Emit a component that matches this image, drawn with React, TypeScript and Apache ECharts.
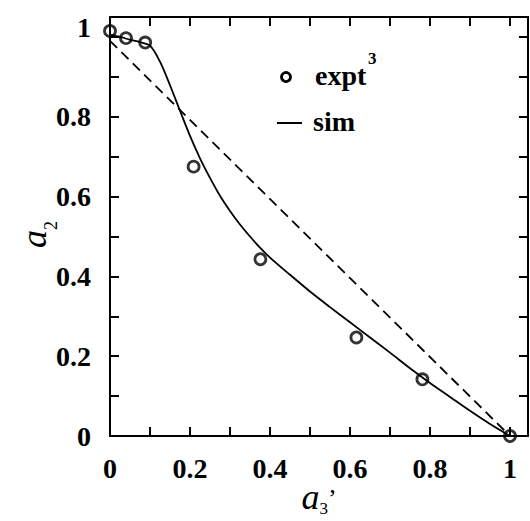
import React, { useEffect, useRef } from "react";
import * as echarts from "echarts";

// experimental points (expt^3)
const exptX = [0, 0.04, 0.088, 0.209, 0.376, 0.616, 0.781, 1.0];
const exptY = [1.015, 0.997, 0.986, 0.675, 0.443, 0.247, 0.142, 0.0];

// simulation curve (sim)
const simX = [0, 0.025, 0.05, 0.075, 0.1, 0.125, 0.15, 0.175, 0.2, 0.225, 0.25, 0.275, 0.3, 0.325, 0.35, 0.375, 0.4, 0.45, 0.5, 0.55, 0.6, 0.65, 0.7, 0.75, 0.8, 0.85, 0.9, 0.95, 1.0];
const simY = [1.005, 1.0, 0.993, 0.987, 0.978, 0.938, 0.879, 0.815, 0.752, 0.696, 0.647, 0.602, 0.564, 0.53, 0.5, 0.472, 0.447, 0.404, 0.362, 0.323, 0.285, 0.247, 0.209, 0.17, 0.133, 0.098, 0.063, 0.03, 0.0];

// dashed reference line
const diagX = [0, 1];
const diagY = [0.99, 0];

// axis labels shown at even tenths
const tickLabels = ["0", "0.2", "0.4", "0.6", "0.8", "1"];

const pairs = (xs: number[], ys: number[]) => xs.map((x, i) => [x, ys[i]]);

const FONT = "'Liberation Serif', 'Times New Roman', serif";

const labelFmt = (v: number) => {
  const k = Math.round(v * 10);
  if (k % 2 !== 0 || k > 10) return "";
  return tickLabels[k / 2];
};

export default function App() {
  const ref = useRef<HTMLDivElement>(null);
  useEffect(() => {
    document.body.style.margin = "0";
    const chart = echarts.init(ref.current!, null, { renderer: "svg" });
    const axisCommon = {
      type: "value" as const,
      min: 0,
      interval: 0.1,
      axisLine: { show: true, onZero: false, lineStyle: { color: "#000", width: 2 } },
      axisTick: { show: true, inside: true, length: 9, lineStyle: { color: "#000", width: 2 } },
      splitLine: { show: false },
    };
    chart.setOption({
      animation: false,
      backgroundColor: "#fff",
      grid: { left: 110, top: 17, right: 2, bottom: 85, containLabel: false, outerBoundsMode: "none" },
      xAxis: [
        {
          ...axisCommon,
          max: 1.045,
          position: "bottom",
          axisLabel: {
            formatter: labelFmt,
            showMaxLabel: false,
            margin: 18,
            color: "#000",
            fontFamily: FONT,
            fontWeight: "bold",
            fontSize: 28,
          },
          name: "{a|a}{s|3}{p|\u2019}",
          nameLocation: "middle",
          nameGap: 43,
          nameMoveOverlap: false,
          nameTextStyle: {
            rich: {
              a: { fontFamily: FONT, fontStyle: "italic", fontSize: 36, lineHeight: 26, color: "#000", verticalAlign: "top" },
              s: { fontFamily: FONT, fontSize: 17, lineHeight: 10, padding: [21, 0, 0, 0], color: "#000", verticalAlign: "top" },
              p: { fontFamily: FONT, fontSize: 26, lineHeight: 14, padding: [6, 0, 0, 0], color: "#000", verticalAlign: "top" },
            },
          },
        },
        {
          ...axisCommon,
          max: 1.045,
          position: "top",
          axisLabel: { show: false },
        },
      ],
      yAxis: [
        {
          ...axisCommon,
          max: 1.05,
          position: "left",
          axisLabel: {
            formatter: (v: number) => {
              const s = labelFmt(v);
              if (!s) return "";
              return s === "1" ? "{t|1}" : s;
            },
            showMaxLabel: false,
            margin: 19,
            color: "#000",
            fontFamily: FONT,
            fontWeight: "bold",
            fontSize: 28,
            rich: {
              t: { fontFamily: FONT, fontWeight: "bold", fontSize: 28, color: "#000", padding: [0, 0, 18, 0] },
            },
          },
          name: "{a|a}{s|2}",
          nameLocation: "middle",
          nameGap: 68,
          nameMoveOverlap: false,
          nameTextStyle: {
            padding: [0, 16, 0, 0],
            rich: {
              a: { fontFamily: FONT, fontStyle: "italic", fontSize: 36, lineHeight: 26, color: "#000", verticalAlign: "top" },
              s: { fontFamily: FONT, fontSize: 18, lineHeight: 10, padding: [26, 0, 0, 0], color: "#000", verticalAlign: "top" },
            },
          },
        },
        {
          ...axisCommon,
          max: 1.05,
          position: "right",
          axisLabel: { show: false },
        },
      ],
      series: [
        {
          name: "diag",
          type: "line",
          data: pairs(diagX, diagY),
          showSymbol: false,
          lineStyle: { color: "#000", width: 1.8, type: [10, 6] },
          z: 2,
        },
        {
          name: "sim",
          type: "line",
          data: pairs(simX, simY),
          showSymbol: false,
          smooth: 0.3,
          lineStyle: { color: "#000", width: 1.8 },
          z: 3,
        },
        {
          name: "expt3",
          type: "scatter",
          data: pairs(exptX, exptY),
          symbol: "circle",
          symbolSize: 11,
          clip: false,
          itemStyle: { color: "rgba(0,0,0,0)", borderColor: "#000", borderWidth: 2.8 },
          z: 4,
        },
      ],
      graphic: [
        { type: "circle", shape: { cx: 286, cy: 77, r: 4.5 }, style: { fill: "none", stroke: "#000", lineWidth: 2.8 } },
        { type: "text", x: 315, y: 75, style: { text: "expt", font: `bold 28px ${FONT}`, fill: "#000", verticalAlign: "middle" } },
        { type: "text", x: 368, y: 58, style: { text: "3", font: `bold 17px ${FONT}`, fill: "#000", verticalAlign: "middle" } },
        { type: "line", shape: { x1: 277, y1: 123, x2: 302, y2: 123 }, style: { stroke: "#000", lineWidth: 2 } },
        { type: "text", x: 313, y: 121, style: { text: "sim", font: `bold 28px ${FONT}`, fill: "#000", verticalAlign: "middle" } },
      ],
    });
    return () => chart.dispose();
  }, []);
  return <div ref={ref} style={{ width: 530, height: 521 }} />;
}
